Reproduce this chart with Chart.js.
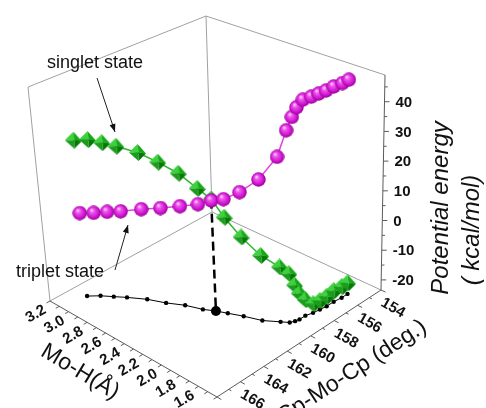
<!DOCTYPE html>
<html>
<head>
<meta charset="utf-8">
<script src="https://cdn.jsdelivr.net/npm/chart.js@4.4.1/dist/chart.umd.min.js"></script>
<style>
  body { margin: 0; background: #fff; }
  #wrap { width: 486px; height: 408px; }
</style>
</head>
<body>
<div id="wrap"><canvas id="pes" width="486" height="408"></canvas></div>
<script>
// Scan geometry: Mo-H distance (Å) and Cp-Mo-Cp angle (deg) at each step
const moH = [3.05, 2.98, 2.90, 2.82, 2.69, 2.55, 2.42, 2.28, 2.19, 2.10, 1.98, 1.83, 1.71, 1.65, 1.63, 1.62, 1.62, 1.60, 1.59, 1.58, 1.58, 1.57, 1.57];
const cpMoCp = [166.0, 165.4, 164.9, 164.4, 163.7, 163.2, 162.6, 162.2, 161.8, 161.5, 161.1, 160.7, 160.1, 159.8, 159.5, 159.2, 158.7, 158.2, 157.7, 157.2, 156.6, 156.0, 155.5];

// Potential energy (kcal/mol) along the scan
const singletE = [29.6, 29.7, 28.9, 27.9, 26.3, 24.1, 21.0, 17.1, 14.0, 8.6, 2.9, -1.9, -5.3, -7.3, -11.5, -14.8, -18.1, -20.4, -20.4, -20.1, -19.7, -19.7, -19.7];
const tripletE = [4.8, 4.8, 5.4, 5.8, 7.1, 8.6, 9.9, 11.8, 13.5, 14.6, 17.8, 23.2, 31.0, 39.9, 43.9, 46.6, 48.1, 48.3, 48.4, 48.5, 48.6, 48.6, 48.7];

// crossing point of the two surfaces
const mecpIndex = 8;
const mecpE = 13.8;

// axes
const moHTicks = [3.2, 3.0, 2.8, 2.6, 2.4, 2.2, 2.0, 1.8, 1.6];
const angleTicks = [154, 156, 158, 160, 162, 164, 166];
const energyTicks = [-20, -10, 0, 10, 20, 30, 40];
const moHRange = [3.2, 1.4];
const angleRange = [168, 154];
const energyRange = [-23.4, 49];

// screen corners of the 3D box (floor and top), A=(3.2,168) B=(1.4,168) C=(1.4,154) D=(3.2,154)
const floorCorners = { A: [50, 301], B: [217, 397], C: [381, 290], D: [212, 212] };
const topCorners = { A: [28, 87], B: [205, 164], C: [385, 75], D: [206, 16] };

const FONT = "'Liberation Sans', Arial, sans-serif";

function project(m, a, e) {
    const u = (moHRange[0] - m) / (moHRange[0] - moHRange[1]);
    const v = (angleRange[0] - a) / (angleRange[0] - angleRange[1]);
    const w = (e - energyRange[0]) / (energyRange[1] - energyRange[0]);
    const bil = (q, k) => (1 - u) * (1 - v) * q.A[k] + u * (1 - v) * q.B[k] + u * v * q.C[k] + (1 - u) * v * q.D[k];
    const fx = bil(floorCorners, 0), fy = bil(floorCorners, 1);
    const tx = bil(topCorners, 0), ty = bil(topCorners, 1);
    return { x: fx + w * (tx - fx), y: fy + w * (ty - fy) };
}

// shaded marker images
function makeSphere(d) {
    const c = document.createElement('canvas');
    c.width = d; c.height = d;
    const g = c.getContext('2d');
    const r = d / 2;
    const grad = g.createRadialGradient(r * 0.7, r * 0.6, 0, r, r, r);
    grad.addColorStop(0, '#ffe8ff');
    grad.addColorStop(0.3, '#ee55ee');
    grad.addColorStop(0.75, '#cc11cc');
    grad.addColorStop(1, '#8a008a');
    g.fillStyle = grad;
    g.beginPath();
    g.arc(r, r, r - 0.3, 0, Math.PI * 2);
    g.fill();
    return c;
}

function makePyramid(d) {
    const c = document.createElement('canvas');
    c.width = d; c.height = d;
    const g = c.getContext('2d');
    const m = d / 2;
    const top = [m, 0], right = [d, m + 1], bottom = [m + 1, d], left = [0, m], mid = [m + 1, m];
    const face = (pts, col) => {
        g.fillStyle = col;
        g.beginPath();
        g.moveTo(pts[0][0], pts[0][1]);
        pts.slice(1).forEach(p => g.lineTo(p[0], p[1]));
        g.closePath();
        g.fill();
    };
    face([left, top, mid], '#3fd03f');
    face([top, right, mid], '#16a816');
    face([left, mid, bottom], '#1c9c1c');
    face([mid, right, bottom], '#037a03');
    return c;
}

const toPx = (chart, p) => [chart.scales.x.getPixelForValue(p.x), chart.scales.y.getPixelForValue(p.y)];

function seg(ctx, p, q) {
    ctx.beginPath();
    ctx.moveTo(p[0], p[1]);
    ctx.lineTo(q[0], q[1]);
    ctx.stroke();
}

function unit(p, q, len) {
    const dx = q[0] - p[0], dy = q[1] - p[1];
    const l = Math.hypot(dx, dy);
    return [dx / l * len, dy / l * len];
}

function rotText(ctx, text, x, y, deg) {
    ctx.save();
    ctx.translate(x, y);
    ctx.rotate(deg * Math.PI / 180);
    ctx.fillText(text, 0, 0);
    ctx.restore();
}

const boxPlugin = {
    id: 'box3d',
    beforeDatasetsDraw(chart) {
        const ctx = chart.ctx;
        const [m0, m1] = moHRange, [a0, a1] = angleRange, [e0, e1] = energyRange;
        const c = (m, a, e) => toPx(chart, project(m, a, e));
        ctx.save();

        // back walls
        ctx.lineWidth = 1;
        ctx.strokeStyle = '#a0a0a0';
        seg(ctx, c(m0, a0, e0), c(m0, a1, e0));
        seg(ctx, c(m0, a1, e0), c(m1, a1, e0));
        seg(ctx, c(m0, a0, e0), c(m0, a0, e1));
        seg(ctx, c(m0, a1, e0), c(m0, a1, e1));
        seg(ctx, c(m0, a0, e1), c(m0, a1, e1));
        seg(ctx, c(m0, a1, e1), c(m1, a1, e1));

        // axis lines
        ctx.strokeStyle = '#5a5a5a';
        seg(ctx, c(m0, a0, e0), c(m1, a0, e0));
        seg(ctx, c(m1, a0, e0), c(m1, a1, e0));
        seg(ctx, c(m1, a1, e0), c(m1, a1, e1));

        ctx.fillStyle = '#111';
        ctx.font = 'bold 15px ' + FONT;
        ctx.textAlign = 'center';
        ctx.textBaseline = 'middle';

        // Mo-H axis
        for (let t = 3.2; t > 1.35; t -= 0.1) {
            const p = c(t, a0, e0);
            const o = unit(c(t, a1, e0), p, 4);
            seg(ctx, p, [p[0] + o[0], p[1] + o[1]]);
        }
        moHTicks.forEach(t => {
            const p = c(t, a0, e0);
            rotText(ctx, t.toFixed(1), p[0] - 14, p[1] + 13, -30);
        });

        // Cp-Mo-Cp axis
        for (let a = 154; a <= 168; a += 1) {
            const p = c(m1, a, e0);
            const o = unit(c(m0, a, e0), p, a % 2 === 0 ? 5 : 3);
            seg(ctx, p, [p[0] + o[0], p[1] + o[1]]);
        }
        angleTicks.forEach(a => {
            const p = c(m1, a, e0);
            rotText(ctx, String(a), p[0] + 12, p[1] + 18, 30);
        });

        // energy axis
        for (let e = -20; e <= 45; e += 5) {
            const p = c(m1, a1, e);
            seg(ctx, p, [p[0] + (e % 10 === 0 ? 5 : 3), p[1]]);
        }
        ctx.textAlign = 'left';
        energyTicks.forEach(e => {
            const p = c(m1, a1, e);
            ctx.fillText(String(e), p[0] + 11, p[1] + 1);
        });

        // axis titles
        ctx.font = 'italic 24px ' + FONT;
        ctx.textAlign = 'center';
        rotText(ctx, 'Potential energy', 441, 208, -90);
        rotText(ctx, '( kcal/mol)', 472, 230, -90);
        ctx.font = '23px ' + FONT;
        rotText(ctx, 'Mo-H(Å)', 80, 372, 31);
        rotText(ctx, 'Cp-Mo-Cp (deg.)', 352, 372, -33);

        ctx.restore();
    },
    afterDatasetsDraw(chart) {
        const ctx = chart.ctx;
        ctx.save();
        ctx.fillStyle = '#111';
        ctx.strokeStyle = '#222';
        ctx.lineWidth = 1;
        ctx.font = '18px ' + FONT;
        ctx.textAlign = 'center';
        ctx.textBaseline = 'middle';
        ctx.fillText('singlet state', 95, 63);
        ctx.fillText('triplet state', 60, 272);
        const arrow = (x0, y0, x1, y1) => {
            seg(ctx, [x0, y0], [x1, y1]);
            const ang = Math.atan2(y1 - y0, x1 - x0);
            ctx.beginPath();
            ctx.moveTo(x1, y1);
            ctx.lineTo(x1 - 8 * Math.cos(ang) + 3 * Math.sin(ang), y1 - 8 * Math.sin(ang) - 3 * Math.cos(ang));
            ctx.lineTo(x1 - 8 * Math.cos(ang) - 3 * Math.sin(ang), y1 - 8 * Math.sin(ang) + 3 * Math.cos(ang));
            ctx.closePath();
            ctx.fill();
        };
        arrow(97, 78, 115, 132);
        arrow(115, 270, 128, 225);
        ctx.restore();
    }
};

const floorE = energyRange[0];
const tripletPts = moH.map((m, i) => project(m, cpMoCp[i], tripletE[i]));
const singletPts = moH.map((m, i) => project(m, cpMoCp[i], singletE[i]));
const floorPts = moH.map((m, i) => project(m, cpMoCp[i], floorE));
const mecpPts = [
    project(moH[mecpIndex], cpMoCp[mecpIndex], mecpE),
    project(moH[mecpIndex], cpMoCp[mecpIndex], floorE)
];

const ctx = document.getElementById('pes').getContext('2d');
new Chart(ctx, {
    type: 'scatter',
    data: {
        datasets: [{
            label: 'triplet state',
            data: tripletPts,
            showLine: true,
            borderColor: '#e040e0',
            borderWidth: 1.5,
            pointStyle: makeSphere(15),
            clip: false
        }, {
            label: 'singlet state',
            data: singletPts,
            showLine: true,
            borderColor: '#2db82d',
            borderWidth: 1.5,
            pointStyle: makePyramid(17),
            clip: false
        }, {
            label: 'MECP',
            data: mecpPts,
            showLine: true,
            borderColor: '#000',
            borderWidth: 2.5,
            borderDash: [9, 5],
            pointRadius: [0, 5],
            pointBackgroundColor: '#000',
            pointBorderWidth: 0,
            clip: false
        }, {
            label: 'projection',
            data: floorPts,
            showLine: true,
            borderColor: '#000',
            borderWidth: 1,
            pointRadius: 2.2,
            pointBackgroundColor: '#000',
            pointBorderWidth: 0,
            clip: false
        }]
    },
    options: {
        responsive: false,
        animation: false,
        devicePixelRatio: 1,
        layout: { padding: 0, autoPadding: false },
        plugins: {
            legend: { display: false },
            tooltip: { enabled: false }
        },
        scales: {
            x: { type: 'linear', min: 0, max: 486, display: false },
            y: { type: 'linear', min: 0, max: 408, reverse: true, display: false }
        }
    },
    plugins: [boxPlugin]
});
</script>
</body>
</html>
